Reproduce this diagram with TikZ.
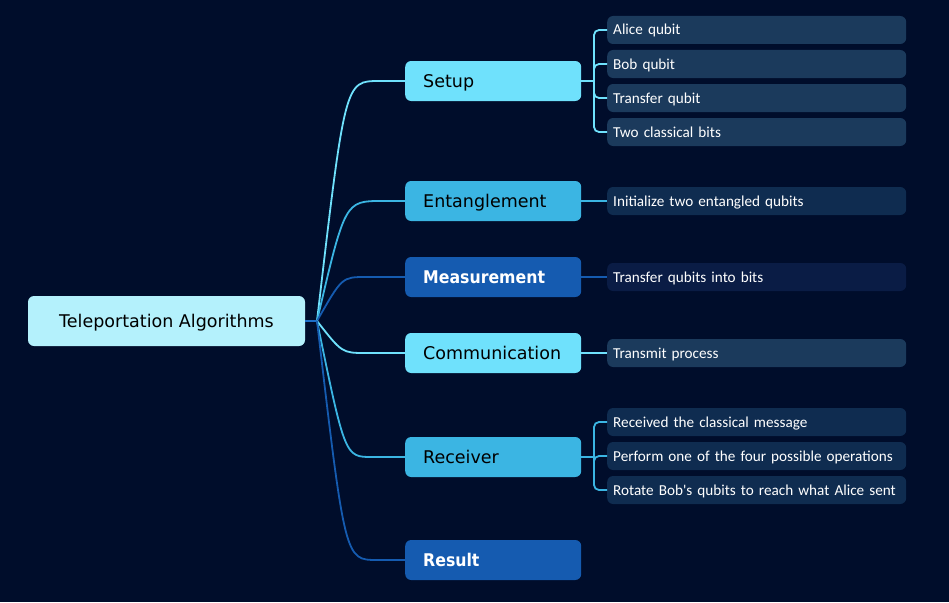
\documentclass[tikz,border=0pt]{standalone}
\usepackage{fontspec}
\setmainfont{DejaVu Sans}
\newfontfamily\leaffont{Carlito}
\newfontfamily\condfont{DejaVu Sans Condensed}
\definecolor{bgcol}{HTML}{000D2B}
\definecolor{rootcol}{HTML}{B4F1FC}
\definecolor{cyancol}{HTML}{6FE1FC}
\definecolor{skycol}{HTML}{3BB5E3}
\definecolor{bluecol}{HTML}{155BB0}
\definecolor{hubcol}{HTML}{1E6FC8}
\definecolor{leafa}{HTML}{1B3A5C}
\definecolor{leafb}{HTML}{0F2C50}
\definecolor{leafc}{HTML}{0A1C45}

\begin{document}
\begin{tikzpicture}[x=1pt,y=-1pt,inner sep=0pt,
  root/.style={rounded corners=6pt,fill=rootcol,minimum width=277pt,minimum height=50pt,text height=12.8pt,text depth=0pt,font=\fontsize{17.5}{20}\selectfont},
  topic/.style={anchor=west,rounded corners=6pt,minimum height=40pt,text width=140pt,inner xsep=18pt,align=left,text height=12.8pt,text depth=0pt,font=\fontsize{17.5}{20}\selectfont},
  boldtopic/.style={topic,fill=bluecol,text=white,font=\condfont\bfseries\fontsize{17.5}{20}\selectfont},
  leaf/.style={anchor=west,rounded corners=6pt,minimum height=28pt,text width=287pt,inner xsep=6pt,align=left,text height=10pt,text depth=0pt,text=white,font=\leaffont\fontsize{15.2}{18}\selectfont},
  link/.style={line width=1.8pt}]
\path[use as bounding box,fill=bgcol] (0,0) rectangle (949,602);
\node[root] (root) at (166.5,321) {Teleportation Algorithms};
\coordinate (hub) at (317,321);
\node[topic,fill=cyancol] (setup) at (405,81) {Setup};
\node[topic,fill=skycol] (ent) at (405,201) {Entanglement};
\node[boldtopic] (meas) at (405,277) {Measurement};
\node[topic,fill=cyancol] (comm) at (405,353) {Communication};
\node[topic,fill=skycol] (recv) at (405,457) {Receiver};
\node[boldtopic] (res) at (405,560) {Result};
\draw[link,hubcol] (root) -- (hub);
\draw[link,cyancol] (hub) .. controls (345,81) .. (379,81) -- (setup);
\draw[link,skycol] (hub) .. controls (345,201) .. (382,201) -- (ent);
\draw[link,bluecol] (hub) .. controls (342,277) .. (366,277) -- (meas);
\draw[link,cyancol] (hub) .. controls (342,353) .. (366,353) -- (comm);
\draw[link,skycol] (hub) .. controls (345,457) .. (372,457) -- (recv);
\draw[link,bluecol] (hub) .. controls (345,560) .. (377,560) -- (res);
\node[leaf,fill=leafa] (alice) at (607,30) {Alice qubit};
\node[leaf,fill=leafa] (bob) at (607,64) {Bob qubit};
\node[leaf,fill=leafa] (transfer) at (607,98) {Transfer qubit};
\node[leaf,fill=leafa] (twobits) at (607,132) {Two classical bits};
\coordinate (sj) at (594,81);
\draw[link,cyancol] (setup) -- (sj);
\draw[link,cyancol,rounded corners=5pt] (sj) |- (alice) (sj) |- (bob) (sj) |- (transfer) (sj) |- (twobits);
\node[leaf,fill=leafb] (init) at (607,201) {Initialize two entangled qubits};
\draw[link,skycol] (ent) -- (init);
\node[leaf,fill=leafc] (tobits) at (607,277) {Transfer qubits into bits};
\draw[link,bluecol] (meas) -- (tobits);
\node[leaf,fill=leafa] (transmit) at (607,353) {Transmit process};
\draw[link,cyancol] (comm) -- (transmit);
\node[leaf,fill=leafb] (got) at (607,422) {Received the classical message};
\node[leaf,fill=leafb] (perform) at (607,456) {Perform one of the four possible operations};
\node[leaf,fill=leafb] (rotate) at (607,490) {Rotate Bob's qubits to reach what Alice sent};
\coordinate (rj) at (594,457);
\draw[link,skycol] (recv) -- (rj);
\draw[link,skycol,rounded corners=5pt] (rj) |- (got) (rj) |- (perform) (rj) |- (rotate);
\end{tikzpicture}
\end{document}
